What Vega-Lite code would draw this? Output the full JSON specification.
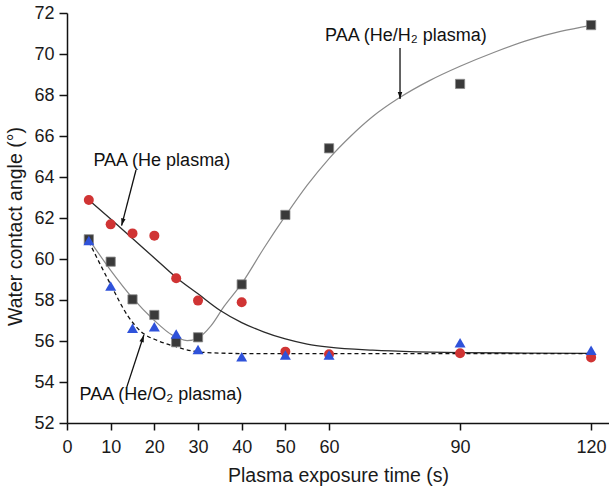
{
  "$schema": "https://vega.github.io/schema/vega-lite/v6.json",
  "width": 542,
  "height": 410,
  "autosize": "none",
  "padding": {"left": 67, "top": 13, "right": 0, "bottom": 66},
  "background": "white",
  "config": {
    "view": {"stroke": null},
    "font": "Liberation Sans",
    "axis": {
      "grid": false,
      "domainColor": "#111",
      "domainWidth": 1.5,
      "tickColor": "#111",
      "tickWidth": 1.5,
      "labelFont": "Liberation Sans",
      "labelFontSize": 18,
      "labelColor": "#1a1a1a",
      "labelFlush": false,
      "labelOverlap": false,
      "titleFont": "Liberation Sans",
      "titleFontSize": 19.5,
      "titleFontWeight": "normal",
      "titleColor": "#1a1a1a"
    }
  },
  "datasets": {
    "pts": [
      {"t": 5, "v": 62.88, "s": "He"},
      {"t": 10, "v": 61.69, "s": "He"},
      {"t": 15, "v": 61.25, "s": "He"},
      {"t": 20, "v": 61.14, "s": "He"},
      {"t": 25, "v": 59.06, "s": "He"},
      {"t": 30, "v": 57.97, "s": "He"},
      {"t": 40, "v": 57.89, "s": "He"},
      {"t": 50, "v": 55.48, "s": "He"},
      {"t": 60, "v": 55.35, "s": "He"},
      {"t": 90, "v": 55.4, "s": "He"},
      {"t": 120, "v": 55.2, "s": "He"},
      {"t": 5, "v": 60.96, "s": "H2"},
      {"t": 10, "v": 59.87, "s": "H2"},
      {"t": 15, "v": 58.03, "s": "H2"},
      {"t": 20, "v": 57.27, "s": "H2"},
      {"t": 25, "v": 55.94, "s": "H2"},
      {"t": 30, "v": 56.18, "s": "H2"},
      {"t": 40, "v": 58.76, "s": "H2"},
      {"t": 50, "v": 62.15, "s": "H2"},
      {"t": 60, "v": 65.4, "s": "H2"},
      {"t": 90, "v": 68.54, "s": "H2"},
      {"t": 120, "v": 71.41, "s": "H2"},
      {"t": 5, "v": 60.9, "s": "O2"},
      {"t": 10, "v": 58.68, "s": "O2"},
      {"t": 15, "v": 56.62, "s": "O2"},
      {"t": 20, "v": 56.7, "s": "O2"},
      {"t": 25, "v": 56.34, "s": "O2"},
      {"t": 30, "v": 55.59, "s": "O2"},
      {"t": 40, "v": 55.23, "s": "O2"},
      {"t": 50, "v": 55.32, "s": "O2"},
      {"t": 60, "v": 55.32, "s": "O2"},
      {"t": 90, "v": 55.92, "s": "O2"},
      {"t": 120, "v": 55.55, "s": "O2"}
    ],
    "curves": [
      {"t": 5, "v": 62.88, "c": "He"},
      {"t": 10, "v": 61.95, "c": "He"},
      {"t": 15, "v": 61.0, "c": "He"},
      {"t": 20, "v": 60.05, "c": "He"},
      {"t": 25, "v": 59.1, "c": "He"},
      {"t": 30, "v": 58.3, "c": "He"},
      {"t": 35, "v": 57.5, "c": "He"},
      {"t": 40, "v": 56.9, "c": "He"},
      {"t": 45, "v": 56.45, "c": "He"},
      {"t": 50, "v": 56.1, "c": "He"},
      {"t": 55, "v": 55.85, "c": "He"},
      {"t": 60, "v": 55.7, "c": "He"},
      {"t": 70, "v": 55.55, "c": "He"},
      {"t": 80, "v": 55.47, "c": "He"},
      {"t": 90, "v": 55.43, "c": "He"},
      {"t": 105, "v": 55.41, "c": "He"},
      {"t": 120, "v": 55.4, "c": "He"},
      {"t": 5, "v": 60.96, "c": "H2"},
      {"t": 10, "v": 59.45, "c": "H2"},
      {"t": 15, "v": 58.1, "c": "H2"},
      {"t": 20, "v": 57.0, "c": "H2"},
      {"t": 24, "v": 56.3, "c": "H2"},
      {"t": 27.5, "v": 56.02, "c": "H2"},
      {"t": 30, "v": 56.15, "c": "H2"},
      {"t": 33, "v": 56.75, "c": "H2"},
      {"t": 36, "v": 57.7, "c": "H2"},
      {"t": 40, "v": 58.8, "c": "H2"},
      {"t": 45, "v": 60.5, "c": "H2"},
      {"t": 50, "v": 62.1, "c": "H2"},
      {"t": 55, "v": 63.6, "c": "H2"},
      {"t": 60, "v": 64.9, "c": "H2"},
      {"t": 65, "v": 66.0, "c": "H2"},
      {"t": 70, "v": 66.95, "c": "H2"},
      {"t": 76, "v": 67.85, "c": "H2"},
      {"t": 83, "v": 68.7, "c": "H2"},
      {"t": 90, "v": 69.4, "c": "H2"},
      {"t": 98, "v": 70.1, "c": "H2"},
      {"t": 106, "v": 70.7, "c": "H2"},
      {"t": 113, "v": 71.1, "c": "H2"},
      {"t": 120, "v": 71.4, "c": "H2"},
      {"t": 5, "v": 60.85, "c": "O2"},
      {"t": 10, "v": 58.75, "c": "O2"},
      {"t": 14, "v": 57.2, "c": "O2"},
      {"t": 17, "v": 56.45, "c": "O2"},
      {"t": 21, "v": 56.0, "c": "O2"},
      {"t": 25, "v": 55.72, "c": "O2"},
      {"t": 29, "v": 55.5, "c": "O2"},
      {"t": 35, "v": 55.41, "c": "O2"},
      {"t": 44, "v": 55.38, "c": "O2"},
      {"t": 60, "v": 55.38, "c": "O2"},
      {"t": 90, "v": 55.38, "c": "O2"},
      {"t": 120, "v": 55.38, "c": "O2"}
    ],
    "arrows": [
      {"t1": 76.25, "v1": 70.29, "t2": 76.25, "v2": 67.8, "ang": 180},
      {"t1": 15.8, "v1": 64.34, "t2": 12.5, "v2": 61.63, "ang": 194.4},
      {"t1": 13.67, "v1": 53.74, "t2": 17.6, "v2": 56.29, "ang": 18.3}
    ],
    "labels": [
      {"t": 77.6, "v": 70.88, "txt": "PAA (He/H₂ plasma)"},
      {"t": 21.7, "v": 64.8, "txt": "PAA (He plasma)"},
      {"t": 21.5, "v": 53.35, "txt": "PAA (He/O₂ plasma)"}
    ]
  },
  "encoding": {
    "x": {
      "field": "t",
      "type": "quantitative",
      "scale": {"domain": [0, 124.1], "nice": false, "zero": false},
      "axis": {
        "title": "Plasma exposure time (s)",
        "values": [0, 10, 20, 30, 40, 50, 60, 90, 120],
        "tickSize": 7,
        "labelPadding": 8,
        "titlePadding": 10
      }
    },
    "y": {
      "field": "v",
      "type": "quantitative",
      "scale": {"domain": [52, 72], "nice": false, "zero": false},
      "axis": {
        "title": "Water contact angle (°)",
        "values": [52, 54, 56, 58, 60, 62, 64, 66, 68, 70, 72],
        "tickSize": 8,
        "labelPadding": 5,
        "titlePadding": 8,
        "titleY": 213
      }
    }
  },
  "layer": [
    {
      "mark": {"type": "rule", "color": "#111", "strokeWidth": 1.5},
      "encoding": {"y": {"datum": 72}, "x": null}
    },
    {
      "data": {"name": "curves"},
      "transform": [{"filter": "datum.c === 'H2'"}],
      "mark": {"type": "line", "interpolate": "monotone", "color": "#8a8a8a", "strokeWidth": 1.2}
    },
    {
      "data": {"name": "curves"},
      "transform": [{"filter": "datum.c === 'He'"}],
      "mark": {"type": "line", "interpolate": "monotone", "color": "#2a2a2a", "strokeWidth": 1.3}
    },
    {
      "data": {"name": "curves"},
      "transform": [{"filter": "datum.c === 'O2'"}],
      "mark": {"type": "line", "interpolate": "monotone", "color": "#111", "strokeWidth": 1.3, "strokeDash": [4, 3]}
    },
    {
      "data": {"name": "pts"},
      "transform": [{"filter": "datum.s === 'H2'"}],
      "mark": {"type": "point", "shape": "square", "filled": true, "size": 85, "fill": "#3a3a3a", "stroke": "#8a8a8a", "strokeWidth": 0.8, "opacity": 1}
    },
    {
      "data": {"name": "pts"},
      "transform": [{"filter": "datum.s === 'He'"}],
      "mark": {"type": "point", "shape": "circle", "filled": true, "size": 100, "fill": "#d03434", "opacity": 1}
    },
    {
      "data": {"name": "pts"},
      "transform": [{"filter": "datum.s === 'O2'"}],
      "mark": {"type": "point", "shape": "triangle-up", "filled": true, "size": 121, "fill": "#2f52da", "opacity": 1}
    },
    {
      "data": {"name": "arrows"},
      "mark": {"type": "rule", "color": "#111", "strokeWidth": 1.3},
      "encoding": {
        "x": {"field": "t1", "type": "quantitative"},
        "y": {"field": "v1", "type": "quantitative"},
        "x2": {"field": "t2"},
        "y2": {"field": "v2"}
      }
    },
    {
      "data": {"name": "arrows"},
      "mark": {"type": "point", "shape": "M0,0L-0.5,1.6L0.5,1.6Z", "filled": true, "size": 81, "fill": "#111", "opacity": 1},
      "encoding": {
        "x": {"field": "t2", "type": "quantitative"},
        "y": {"field": "v2", "type": "quantitative"},
        "angle": {"field": "ang", "type": "quantitative", "scale": null}
      }
    },
    {
      "data": {"name": "labels"},
      "mark": {"type": "text", "font": "Liberation Sans", "fontSize": 18, "color": "#111", "align": "center", "baseline": "middle"},
      "encoding": {
        "text": {"field": "txt"}
      }
    }
  ]
}
